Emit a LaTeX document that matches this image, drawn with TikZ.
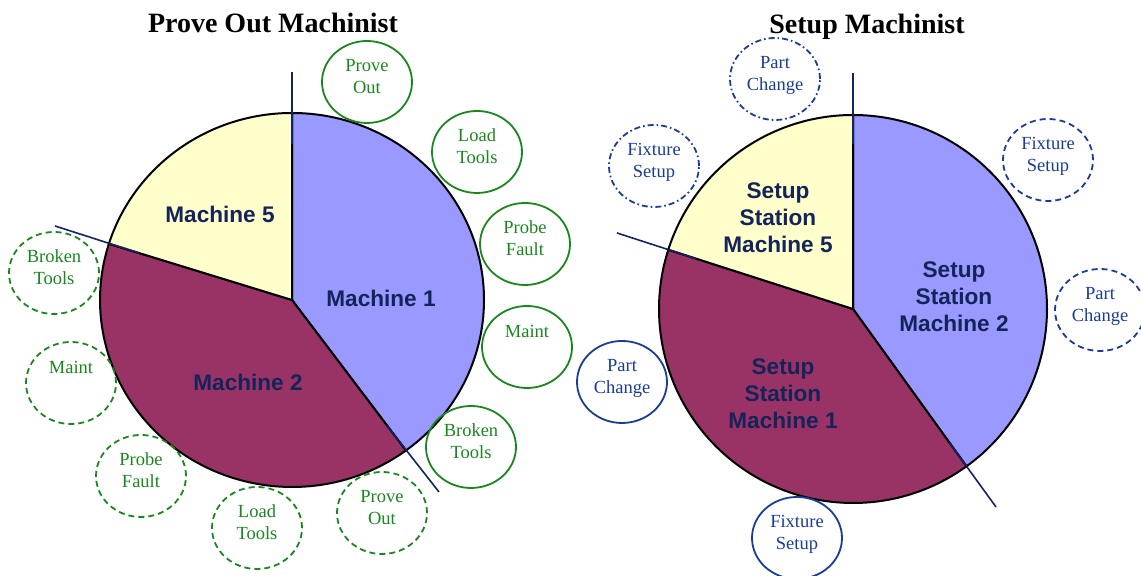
\documentclass[tikz,border=0pt]{standalone}
\usepackage{fontspec}
\setmainfont{Liberation Serif}
\newfontfamily\arialfont{Liberation Sans}
\usepackage{tikz}
\usetikzlibrary{shapes.geometric}
\definecolor{slicebl}{RGB}{153,153,255}
\definecolor{slicered}{RGB}{153,51,102}
\definecolor{sliceyl}{RGB}{255,255,204}
\definecolor{labelnavy}{RGB}{20,35,90}
\definecolor{linenavy}{RGB}{20,35,100}
\definecolor{taskgreen}{RGB}{25,135,30}
\definecolor{taskblue}{RGB}{25,60,150}
\tikzset{
    %Define style for titles
    title/.style={
           font=\fontsize{14}{17}\selectfont\bfseries},
    %Define style for slice labels
    machine/.style={
           text=labelnavy,
           align=center,
           font=\arialfont\bfseries\fontsize{11.3}{13.5}\selectfont},
    slice/.style={
           draw=black,
           line width=1pt},
    %Define style for task circles
    task/.style={
           ellipse,
           line width=0.9pt,
           minimum width=45pt,
           minimum height=41pt,
           inner sep=0pt,
           align=center,
           text depth=6pt,
           font=\fontsize{9.25}{11}\selectfont},
    oneline/.style={text depth=16pt},
    ptask/.style={task, draw=taskgreen, text=taskgreen},
    ptaskdash/.style={ptask, dash pattern=on 3pt off 2pt},
    stask/.style={task, draw=taskblue, text=taskblue},
    staskdash/.style={stask, dash pattern=on 3pt off 2pt},
    staskdot/.style={stask, dash pattern=on 3pt off 1.5pt on 0.8pt off 1.5pt},
    % Define divider style
    divider/.style={
           draw=linenavy,
           line width=0.8pt}
}
\begin{document}
\begin{tikzpicture}[x=0.5pt,y=0.5pt]
\useasboundingbox (0,0) rectangle (1141,576);
 %left pie
\coordinate (L) at (292,276);
\path[slice, fill=slicebl] (L) -- ++(90:192 and 187)
    arc[start angle=90, end angle=-53.6, x radius=192, y radius=187] -- cycle;
\path[slice, fill=slicered] (L) -- ++(-53.6:192 and 187)
    arc[start angle=-53.6, end angle=-197.5, x radius=192, y radius=187] -- cycle;
\path[slice, fill=sliceyl] (L) -- ++(162.5:192 and 187)
    arc[start angle=162.5, end angle=90, x radius=192, y radius=187] -- cycle;
\path (L) ++(90:160 and 156) coordinate (L1a);
\path (L) ++(-53.6:160 and 156) coordinate (L2a);
\path (L) ++(162.5:160 and 156) coordinate (L5a);
\coordinate (L1b) at (292,504);
\coordinate (L2b) at (439,84);
\coordinate (L5b) at (55,350);
\draw[divider] (L1a) -- (L1b);
\draw[divider] (L2a) -- (L2b);
\draw[divider] (L5a) -- (L5b);
 %right pie
\coordinate (R) at (853,267);
\path[slice, fill=slicebl] (R) -- ++(90:194)
    arc[start angle=90, end angle=-54.2, radius=194] -- cycle;
\path[slice, fill=slicered] (R) -- ++(-54.2:194)
    arc[start angle=-54.2, end angle=-197.8, radius=194] -- cycle;
\path[slice, fill=sliceyl] (R) -- ++(162.2:194)
    arc[start angle=162.2, end angle=90, radius=194] -- cycle;
\path (R) ++(90:165) coordinate (R2a);
\path (R) ++(-54.2:165) coordinate (R1a);
\path (R) ++(162.2:165) coordinate (R5a);
\coordinate (R2b) at (853,503);
\coordinate (R1b) at (996,69);
\coordinate (R5b) at (617,343);
\draw[divider] (R2a) -- (R2b);
\draw[divider] (R1a) -- (R1b);
\draw[divider] (R5a) -- (R5b);
 %titles
\node[title] (ptitle) at (273,553) {Prove Out Machinist};
\node[title] (stitle) at (867,549) {Setup Machinist};
 %slice labels
\node[machine] (m5) at (220,362) {Machine 5};
\node[machine] (m1) at (381,278) {Machine 1};
\node[machine] (m2) at (248,194) {Machine 2};
\node[machine] (sm5) at (778,358) {Setup\\Station\\Machine 5};
\node[machine] (sm2) at (954,279) {Setup\\Station\\Machine 2};
\node[machine] (sm1) at (783,182) {Setup\\Station\\Machine 1};
 %prove out tasks
\node[ptask] (po1) at (367,494) {Prove\\Out};
\node[ptask] (lt1) at (477,424) {Load\\Tools};
\node[ptask] (pf1) at (525,332) {Probe\\Fault};
\node[ptask, oneline] (mt1) at (527,229) {Maint};
\node[ptask] (bt1) at (471,129) {Broken\\Tools};
\node[ptaskdash] (bt2) at (54,303) {Broken\\Tools};
\node[ptaskdash, oneline] (mt2) at (71,193) {Maint};
\node[ptaskdash] (pf2) at (141,100) {Probe\\Fault};
\node[ptaskdash] (lt2) at (257,48) {Load\\Tools};
\node[ptaskdash] (po2) at (382,63) {Prove\\Out};
 %setup tasks
\node[staskdot] (pc1) at (775,497) {Part\\Change};
\node[staskdot] (fs1) at (654,410) {Fixture\\Setup};
\node[staskdash] (fs2) at (1048,416) {Fixture\\Setup};
\node[staskdash] (pc2) at (1100,266) {Part\\Change};
\node[stask] (pc3) at (622,194) {Part\\Change};
\node[stask] (fs3) at (797,38) {Fixture\\Setup};
\end{tikzpicture}
\end{document}
